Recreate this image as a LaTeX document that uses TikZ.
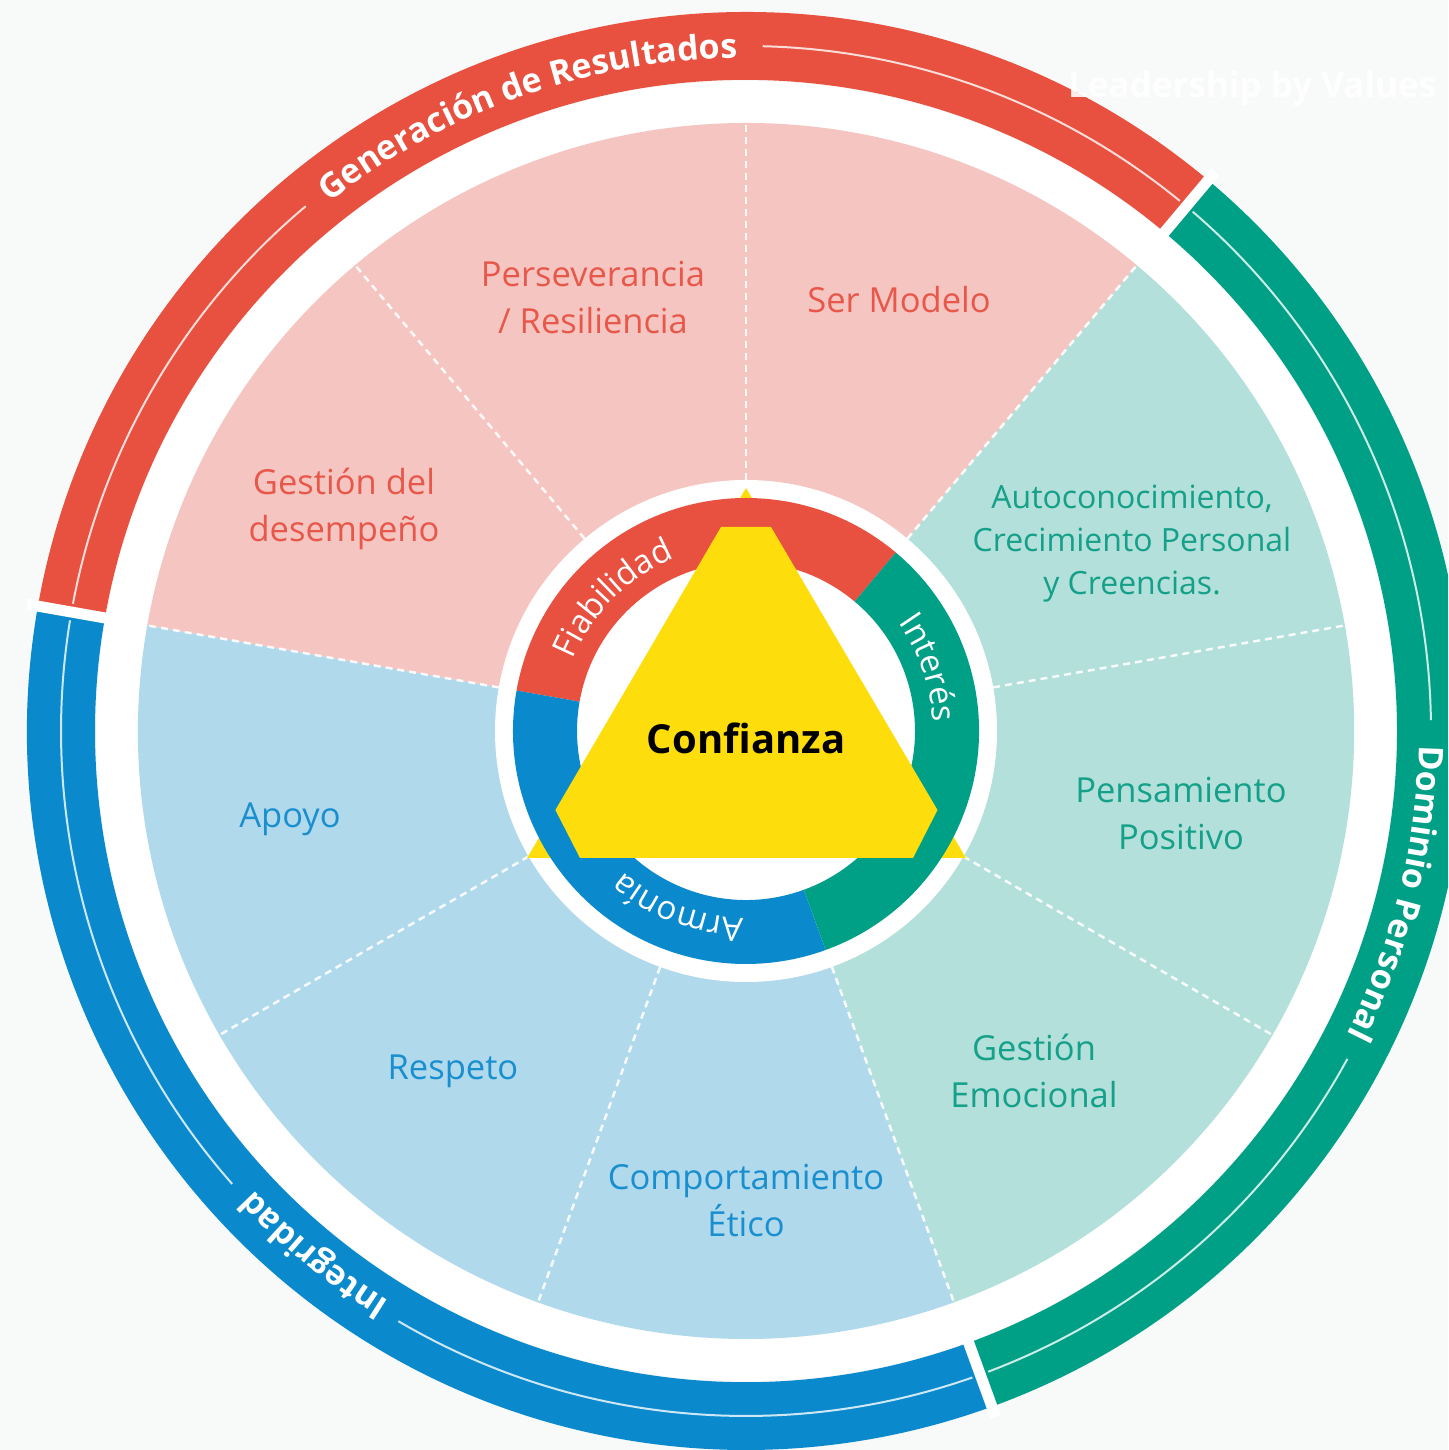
\documentclass[tikz,border=0pt]{standalone}
\usepackage{fontspec}
\setmainfont{Open Sans}
\usetikzlibrary{decorations.text}

\definecolor{bg}{HTML}{F8F9F9}
\definecolor{redband}{HTML}{E8503F}
\definecolor{greenband}{HTML}{00A087}
\definecolor{blueband}{HTML}{0A8ACD}
\definecolor{trianglefill}{HTML}{FEDD0D}
\definecolor{redsoft}{HTML}{F5C5C1}
\definecolor{greensoft}{HTML}{B3E0DA}
\definecolor{bluesoft}{HTML}{B1D9EC}
\definecolor{redtext}{HTML}{E8584A}
\definecolor{greentext}{HTML}{14A089}
\definecolor{bluetext}{HTML}{1A8FD0}

\newcommand{\bandfont}{\fontsize{34}{40}\selectfont\bfseries}
\newcommand{\ringfont}{\fontsize{33}{39}\selectfont}

\begin{document}
\begin{tikzpicture}[x=1pt,y=1pt,
  sectorlabel/.style={align=center, inner sep=0pt, font=\fontsize{34.5}{47}\selectfont},
  smalllabel/.style={align=center, inner sep=0pt, font=\fontsize{32}{43}\selectfont},
  divider/.style={draw=white, line width=2.5pt, dash pattern=on 7pt off 5pt, opacity=0.9},
  bandline/.style={draw=white, line width=2pt, opacity=0.8},
  bandgap/.style={draw=white, line width=11pt},
  bandtext/.style={decorate, decoration={text along path, text align=center, text color=white}},
]
\useasboundingbox (0,0) rectangle (1448,1450);
\clip (0,0) rectangle (1448,1450);
\fill[bg] (0,0) rectangle (1448,1450);

\begin{scope}[shift={(746,719)}]
  % white field behind the wheel
  \fill[white] (0,0) circle[radius=650];

  % pastel sectors
  \fill[redsoft] (0,0) -- (50:608) arc[start angle=50,end angle=170,radius=608] -- cycle;
  \fill[bluesoft] (0,0) -- (170:608) arc[start angle=170,end angle=290,radius=608] -- cycle;
  \fill[greensoft] (0,0) -- (290:608) arc[start angle=290,end angle=410,radius=608] -- cycle;
  \foreach \a in {50,90,...,370} \draw[divider] (\a:251) -- (\a:606);

  % outer coloured bands
  \fill[redband] (50:719) arc[start angle=50,end angle=170,radius=719]
     -- (170:651) arc[start angle=170,end angle=50,radius=651] -- cycle;
  \fill[blueband] (170:719) arc[start angle=170,end angle=290,radius=719]
     -- (290:651) arc[start angle=290,end angle=170,radius=651] -- cycle;
  \fill[greenband] (290:719) arc[start angle=290,end angle=410,radius=719]
     -- (50:651) arc[start angle=410,end angle=290,radius=651] -- cycle;
  \foreach \a in {50,170,290} \draw[bandgap] (\a:640) -- (\a:730);

  % thin lines running along the bands
  \draw[bandline] (169.3:685) arc[start angle=169.3,end angle=130,radius=685];
  \draw[bandline] (88.6:685) arc[start angle=88.6,end angle=50.7,radius=685];
  \draw[bandline] (49.3:685) arc[start angle=49.3,end angle=0.9,radius=685];
  \draw[bandline] (-28.6:685) arc[start angle=-28.6,end angle=-69.3,radius=685];
  \draw[bandline] (289.3:685) arc[start angle=289.3,end angle=239.5,radius=685];
  \draw[bandline] (221.4:685) arc[start angle=221.4,end angle=170.7,radius=685];

  % band titles
  \path[bandtext, decoration={text={|\bandfont|Generación de Resultados}}]
     (150:673) arc[start angle=150,end angle=69,radius=673];
  \path[bandtext, decoration={text={|\bandfont|Dominio Personal}}]
     (26:673) arc[start angle=26,end angle=-54,radius=673];
  \path[bandtext, decoration={text={|\bandfont|Integridad}}]
     (270:673) arc[start angle=270,end angle=191,radius=673];

  % central disc, triangle and inner ring
  \fill[white] (0,0) circle[radius=251];
  \fill[trianglefill] (0,243) -- (-219,-127) -- (220,-127) -- cycle;
  \fill[redband] (50:233) arc[start angle=50,end angle=170,radius=233]
     -- (170:169) arc[start angle=170,end angle=50,radius=169] -- cycle;
  \fill[blueband] (170:233) arc[start angle=170,end angle=290,radius=233]
     -- (290:169) arc[start angle=290,end angle=170,radius=169] -- cycle;
  \fill[greenband] (290:233) arc[start angle=290,end angle=410,radius=233]
     -- (50:169) arc[start angle=410,end angle=290,radius=169] -- cycle;
  \fill[trianglefill] (-25,204) -- (25,204) -- (191.5,-79) -- (167,-127)
     -- (-166,-127) -- (-190.6,-79) -- cycle;

  % inner ring titles
  \path[bandtext, decoration={text={|\ringfont|Fiabilidad}}]
     (175:187) arc[start angle=175,end angle=95,radius=187];
  \path[bandtext, decoration={text={|\ringfont|Interés}}]
     (59:187) arc[start angle=59,end angle=-21,radius=187];
  \path[bandtext, decoration={text={|\ringfont|Armonía}}]
     (289:187) arc[start angle=289,end angle=209,radius=187];

  \node[font=\fontsize{40}{46}\selectfont\bfseries, inner sep=0pt] (core) at (0,-7) {Confianza};

  % sector labels
  \node[sectorlabel, text=redtext] (perseverancia) at (-153,433) {Perseverancia\\/ Resiliencia};
  \node[sectorlabel, text=redtext] (modelo) at (153,431) {Ser Modelo};
  \node[sectorlabel, text=redtext] (desempeno) at (-402,222) {Gestión del\\desempeño};
  \node[smalllabel, text=greentext] (autoconocimiento) at (386,187) {Autoconocimiento,\\Crecimiento Personal\\y Creencias.};
  \node[sectorlabel, text=greentext] (pensamiento) at (435,-83) {Pensamiento\\Positivo};
  \node[sectorlabel, text=greentext] (emocional) at (288,-340) {Gestión\\Emocional};
  \node[sectorlabel, text=bluetext] (etico) at (0,-470) {Comportamiento\\Ético};
  \node[sectorlabel, text=bluetext] (respeto) at (-293,-340) {Respeto};
  \node[sectorlabel, text=bluetext] (apoyo) at (-456,-88) {Apoyo};

  % faint white caption in the top right corner
  \node[anchor=base west, inner sep=0pt, text=white, opacity=0.9,
        font=\fontsize{35}{40}\selectfont\bfseries] (caption) at (322,633) {Leadership by Values};
\end{scope}
\end{tikzpicture}
\end{document}
